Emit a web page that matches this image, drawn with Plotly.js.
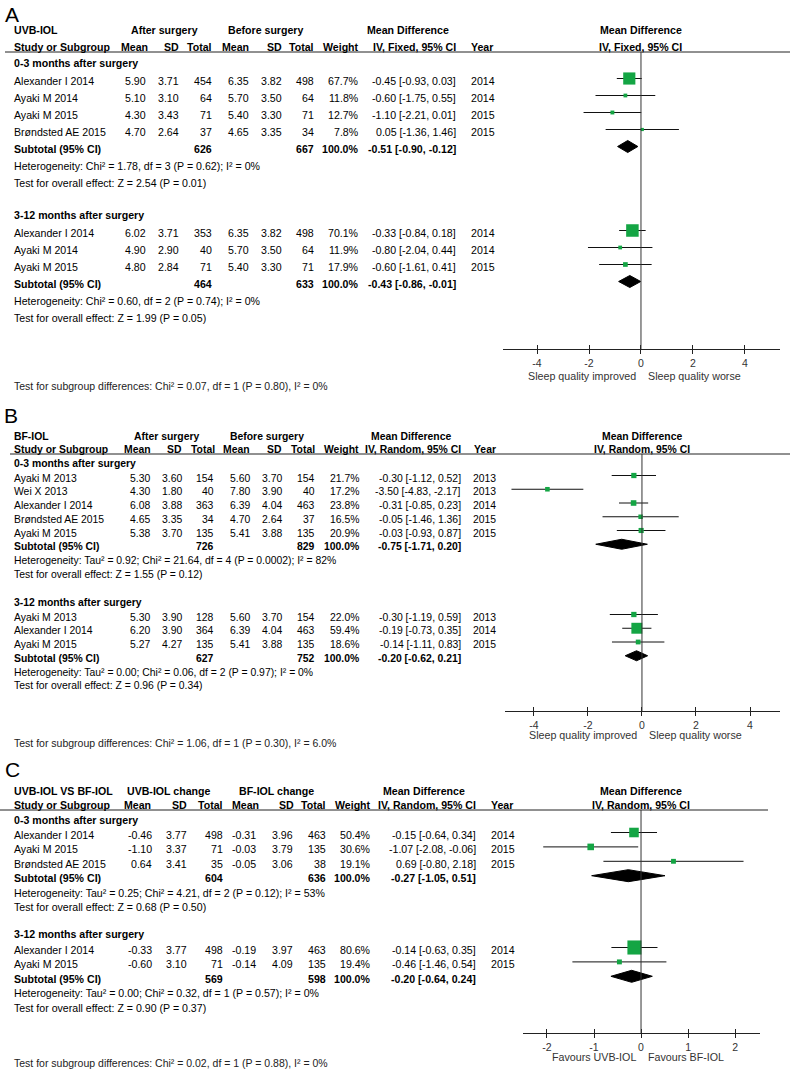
<!DOCTYPE html>
<html><head><meta charset="utf-8">
<script src="https://cdn.plot.ly/plotly-3.0.1.min.js"></script>
<style>html,body{margin:0;padding:0;background:#fff}#chart{width:790px;height:1069px}</style>
</head><body><div id="chart"></div>
<script>
// ================= DATA =================
// Panel A: UVB-IOL, IV Fixed
const A_title = "UVB-IOL";
const A_group1 = "After surgery";
const A_group2 = "Before surgery";
const A_method = "IV, Fixed, 95% CI";
const A_dirLeft = "Sleep quality improved";
const A_dirRight = "Sleep quality worse";
const A_ticks = [-4, -2, 0, 2, 4];

const A1_name = "0-3 months after surgery";
const A1_study = ["Alexander I 2014", "Ayaki M 2014", "Ayaki M 2015", "Brøndsted AE 2015"];
const A1_m1 = [5.90, 5.10, 4.30, 4.70];
const A1_s1 = [3.71, 3.10, 3.43, 2.64];
const A1_n1 = [454, 64, 71, 37];
const A1_m2 = [6.35, 5.70, 5.40, 4.65];
const A1_s2 = [3.82, 3.50, 3.30, 3.35];
const A1_n2 = [498, 64, 71, 34];
const A1_weight = [67.7, 11.8, 12.7, 7.8];
const A1_md = [-0.45, -0.60, -1.10, 0.05];
const A1_lo = [-0.93, -1.75, -2.21, -1.36];
const A1_hi = [0.03, 0.55, 0.01, 1.46];
const A1_year = [2014, 2014, 2015, 2015];
const A1_total = [626, 667];
const A1_pooled = [-0.51, -0.90, -0.12];
const A1_het = "Heterogeneity: Chi² = 1.78, df = 3 (P = 0.62); I² = 0%";
const A1_test = "Test for overall effect: Z = 2.54 (P = 0.01)";

const A2_name = "3-12 months after surgery";
const A2_study = ["Alexander I 2014", "Ayaki M 2014", "Ayaki M 2015"];
const A2_m1 = [6.02, 4.90, 4.80];
const A2_s1 = [3.71, 2.90, 2.84];
const A2_n1 = [353, 40, 71];
const A2_m2 = [6.35, 5.70, 5.40];
const A2_s2 = [3.82, 3.50, 3.30];
const A2_n2 = [498, 64, 71];
const A2_weight = [70.1, 11.9, 17.9];
const A2_md = [-0.33, -0.80, -0.60];
const A2_lo = [-0.84, -2.04, -1.61];
const A2_hi = [0.18, 0.44, 0.41];
const A2_year = [2014, 2014, 2015];
const A2_total = [464, 633];
const A2_pooled = [-0.43, -0.86, -0.01];
const A2_het = "Heterogeneity: Chi² = 0.60, df = 2 (P = 0.74); I² = 0%";
const A2_test = "Test for overall effect: Z = 1.99 (P = 0.05)";
const A_diff = "Test for subgroup differences: Chi² = 0.07, df = 1 (P = 0.80), I² = 0%";

// Panel B: BF-IOL, IV Random
const B_title = "BF-IOL";
const B_group1 = "After surgery";
const B_group2 = "Before surgery";
const B_method = "IV, Random, 95% CI";
const B_dirLeft = "Sleep quality improved";
const B_dirRight = "Sleep quality worse";
const B_ticks = [-4, -2, 0, 2, 4];

const B1_name = "0-3 months after surgery";
const B1_study = ["Ayaki M 2013", "Wei X 2013", "Alexander I 2014", "Brøndsted AE 2015", "Ayaki M 2015"];
const B1_m1 = [5.30, 4.30, 6.08, 4.65, 5.38];
const B1_s1 = [3.60, 1.80, 3.88, 3.35, 3.70];
const B1_n1 = [154, 40, 363, 34, 135];
const B1_m2 = [5.60, 7.80, 6.39, 4.70, 5.41];
const B1_s2 = [3.70, 3.90, 4.04, 2.64, 3.88];
const B1_n2 = [154, 40, 463, 37, 135];
const B1_weight = [21.7, 17.2, 23.8, 16.5, 20.9];
const B1_md = [-0.30, -3.50, -0.31, -0.05, -0.03];
const B1_lo = [-1.12, -4.83, -0.85, -1.46, -0.93];
const B1_hi = [0.52, -2.17, 0.23, 1.36, 0.87];
const B1_year = [2013, 2013, 2014, 2015, 2015];
const B1_total = [726, 829];
const B1_pooled = [-0.75, -1.71, 0.20];
const B1_het = "Heterogeneity: Tau² = 0.92; Chi² = 21.64, df = 4 (P = 0.0002); I² = 82%";
const B1_test = "Test for overall effect: Z = 1.55 (P = 0.12)";

const B2_name = "3-12 months after surgery";
const B2_study = ["Ayaki M 2013", "Alexander I 2014", "Ayaki M 2015"];
const B2_m1 = [5.30, 6.20, 5.27];
const B2_s1 = [3.90, 3.90, 4.27];
const B2_n1 = [128, 364, 135];
const B2_m2 = [5.60, 6.39, 5.41];
const B2_s2 = [3.70, 4.04, 3.88];
const B2_n2 = [154, 463, 135];
const B2_weight = [22.0, 59.4, 18.6];
const B2_md = [-0.30, -0.19, -0.14];
const B2_lo = [-1.19, -0.73, -1.11];
const B2_hi = [0.59, 0.35, 0.83];
const B2_year = [2013, 2014, 2015];
const B2_total = [627, 752];
const B2_pooled = [-0.20, -0.62, 0.21];
const B2_het = "Heterogeneity: Tau² = 0.00; Chi² = 0.06, df = 2 (P = 0.97); I² = 0%";
const B2_test = "Test for overall effect: Z = 0.96 (P = 0.34)";
const B_diff = "Test for subgroup differences: Chi² = 1.06, df = 1 (P = 0.30), I² = 6.0%";

// Panel C: UVB-IOL VS BF-IOL, IV Random
const C_title = "UVB-IOL VS BF-IOL";
const C_group1 = "UVB-IOL change";
const C_group2 = "BF-IOL change";
const C_method = "IV, Random, 95% CI";
const C_dirLeft = "Favours UVB-IOL";
const C_dirRight = "Favours BF-IOL";
const C_ticks = [-2, -1, 0, 1, 2];

const C1_name = "0-3 months after surgery";
const C1_study = ["Alexander I 2014", "Ayaki M 2015", "Brøndsted AE 2015"];
const C1_m1 = [-0.46, -1.10, 0.64];
const C1_s1 = [3.77, 3.37, 3.41];
const C1_n1 = [498, 71, 35];
const C1_m2 = [-0.31, -0.03, -0.05];
const C1_s2 = [3.96, 3.79, 3.06];
const C1_n2 = [463, 135, 38];
const C1_weight = [50.4, 30.6, 19.1];
const C1_md = [-0.15, -1.07, 0.69];
const C1_lo = [-0.64, -2.08, -0.80];
const C1_hi = [0.34, -0.06, 2.18];
const C1_year = [2014, 2015, 2015];
const C1_total = [604, 636];
const C1_pooled = [-0.27, -1.05, 0.51];
const C1_het = "Heterogeneity: Tau² = 0.25; Chi² = 4.21, df = 2 (P = 0.12); I² = 53%";
const C1_test = "Test for overall effect: Z = 0.68 (P = 0.50)";

const C2_name = "3-12 months after surgery";
const C2_study = ["Alexander I 2014", "Ayaki M 2015"];
const C2_m1 = [-0.33, -0.60];
const C2_s1 = [3.77, 3.10];
const C2_n1 = [498, 71];
const C2_m2 = [-0.19, -0.14];
const C2_s2 = [3.97, 4.09];
const C2_n2 = [463, 135];
const C2_weight = [80.6, 19.4];
const C2_md = [-0.14, -0.46];
const C2_lo = [-0.63, -1.46];
const C2_hi = [0.35, 0.54];
const C2_year = [2014, 2015];
const C2_total = [569, 598];
const C2_pooled = [-0.20, -0.64, 0.24];
const C2_het = "Heterogeneity: Tau² = 0.00; Chi² = 0.32, df = 1 (P = 0.57); I² = 0%";
const C2_test = "Test for overall effect: Z = 0.90 (P = 0.37)";
const C_diff = "Test for subgroup differences: Chi² = 0.02, df = 1 (P = 0.88), I² = 0%";

// ================= BUILD =================
const W = 790, H = 1069;
const GREEN = '#14a544';
const FN = '"Liberation Sans",Arial,sans-serif';
const annotations = [], shapes = [], traces = [];
const layoutAxes = {};
const pxX = x => x / W;
const pxY = y => 1 - y / H;

function T(x, y, text, o) {
  o = o || {};
  annotations.push({
    xref: o.xref || 'paper', yref: 'paper',
    x: o.xref ? x : pxX(x), y: pxY(y), text: String(text), showarrow: false,
    xanchor: o.a || 'left', yanchor: 'middle', xshift: o.xs || 0,
    borderpad: 0, font: { family: FN, size: o.s || 10.5, color: o.c || '#000' }
  });
}
const f2 = v => v.toFixed(2);
const ci = (m, l, h) => f2(m) + ' [' + f2(l) + ', ' + f2(h) + ']';

function mkSub(name, study, m1, s1, n1, m2, s2, n2, weight, md, lo, hi, year, total, pooled, het, test) {
  return { name, study, m1, s1, n1, m2, s2, n2, weight, md, lo, hi, year, total, pooled, het, test };
}

const PANELS = [
  { data: { label: 'A', title: A_title, g1: A_group1, g2: A_group2, method: A_method, dirL: A_dirLeft, dirR: A_dirRight, ticks: A_ticks, diff: A_diff,
      subs: [mkSub(A1_name, A1_study, A1_m1, A1_s1, A1_n1, A1_m2, A1_s2, A1_n2, A1_weight, A1_md, A1_lo, A1_hi, A1_year, A1_total, A1_pooled, A1_het, A1_test),
             mkSub(A2_name, A2_study, A2_m1, A2_s1, A2_n1, A2_m2, A2_s2, A2_n2, A2_weight, A2_md, A2_lo, A2_hi, A2_year, A2_total, A2_pooled, A2_het, A2_test)] },
    L: { fs: 10.6, labelX: 4, labelY: 15, h1: 30, h2: 47, line: 52, lineX0: 5, lineX1: 790,
      g1c: 164, g2c: 265, mdHc: 408,
      hcol: { m1: 149, s1: 180, n1: 213, m2: 250, s2: 283, n2: 315, w: 360, md: 457, yr: 470 },
      col: { m1: 147, s1: 180, n1: 213, m2: 250, s2: 283, n2: 315, w: 360, md: 457, yr: 470 },
      subs: [{ title: 63, start: 81 }, { title: 215, start: 233 }], step: 17, mOff: -2.5,
      ax0: 503, ax1: 780, range: [-5.31, 5.35], axisY: 349, dirY: 376, diffY: 386, dia: 6 } },
  { data: { label: 'B', title: B_title, g1: B_group1, g2: B_group2, method: B_method, dirL: B_dirLeft, dirR: B_dirRight, ticks: B_ticks, diff: B_diff,
      subs: [mkSub(B1_name, B1_study, B1_m1, B1_s1, B1_n1, B1_m2, B1_s2, B1_n2, B1_weight, B1_md, B1_lo, B1_hi, B1_year, B1_total, B1_pooled, B1_het, B1_test),
             mkSub(B2_name, B2_study, B2_m1, B2_s1, B2_n1, B2_m2, B2_s2, B2_n2, B2_weight, B2_md, B2_lo, B2_hi, B2_year, B2_total, B2_pooled, B2_het, B2_test)] },
    L: { fs: 10.4, labelX: 3, labelY: 415, h1: 436, h2: 449, line: 454, lineX0: 10, lineX1: 790,
      g1c: 166, g2c: 267, mdHc: 411,
      hcol: { m1: 152, s1: 183, n1: 216, m2: 251, s2: 283, n2: 316, w: 360, md: 462, yr: 473 },
      col: { m1: 151, s1: 183, n1: 215, m2: 251, s2: 283, n2: 316, w: 360, md: 462, yr: 472 },
      subs: [{ title: 463, start: 478 }, { title: 602, start: 617 }], step: 13.75, mOff: -2.5,
      ax0: 505, ax1: 780, range: [-5.07, 5.11], axisY: 711, dirY: 735, diffY: 743, dia: 5 } },
  { data: { label: 'C', title: C_title, g1: C_group1, g2: C_group2, method: C_method, dirL: C_dirLeft, dirR: C_dirRight, ticks: C_ticks, diff: C_diff,
      subs: [mkSub(C1_name, C1_study, C1_m1, C1_s1, C1_n1, C1_m2, C1_s2, C1_n2, C1_weight, C1_md, C1_lo, C1_hi, C1_year, C1_total, C1_pooled, C1_het, C1_test),
             mkSub(C2_name, C2_study, C2_m1, C2_s1, C2_n1, C2_m2, C2_s2, C2_n2, C2_weight, C2_md, C2_lo, C2_hi, C2_year, C2_total, C2_pooled, C2_het, C2_test)] },
    L: { fs: 10.6, labelX: 4, labelY: 769, h1: 791, h2: 805, line: 810, lineX0: 0, lineX1: 768,
      g1c: 168, g2c: 276, mdHc: 424,
      hcol: { m1: 152, s1: 188, n1: 224, m2: 260, s2: 295, n2: 327, w: 372, md: 477, yr: 490 },
      col: { m1: 153, s1: 188, n1: 224, m2: 257, s2: 294, n2: 327, w: 372, md: 477, yr: 490 },
      subs: [{ title: 820, start: 835 }, { title: 934, start: 950 }], step: 14.4, mOff: -2.5,
      ax0: 523, ax1: 760, range: [-2.51, 2.53], axisY: 1033, dirY: 1057, diffY: 1063, dia: 6 } }
];

PANELS.forEach((P, k) => {
  const D = P.data, L = P.L, n = k + 1;
  const xa = 'x' + (n === 1 ? '' : n), ya = 'y' + (n === 1 ? '' : n);
  const xname = 'xaxis' + (n === 1 ? '' : n), yname = 'yaxis' + (n === 1 ? '' : n);
  const fs = L.fs;
  const b = s => '<b>' + s + '</b>';

  // Panel letter
  T(L.labelX, L.labelY, D.label, { s: 21, c: '#000' });
  // Header row 1
  T(13, L.h1, b(D.title), { s: fs });
  T(L.g1c, L.h1, b(D.g1), { s: fs, a: 'center' });
  T(L.g2c, L.h1, b(D.g2), { s: fs, a: 'center' });
  T(L.mdHc, L.h1, b('Mean Difference'), { s: fs, a: 'center' });
  T(0, L.h1, b('Mean Difference'), { s: fs, a: 'center', xref: xa });
  // Header row 2
  T(13, L.h2, b('Study or Subgroup'), { s: fs });
  const hc = L.hcol;
  T(hc.m1, L.h2, b('Mean'), { s: fs, a: 'right' });
  T(hc.s1, L.h2, b('SD'), { s: fs, a: 'right' });
  T(hc.n1, L.h2, b('Total'), { s: fs, a: 'right' });
  T(hc.m2, L.h2, b('Mean'), { s: fs, a: 'right' });
  T(hc.s2, L.h2, b('SD'), { s: fs, a: 'right' });
  T(hc.n2, L.h2, b('Total'), { s: fs, a: 'right' });
  T(hc.w, L.h2, b('Weight'), { s: fs, a: 'right' });
  T(hc.md, L.h2, b(D.method), { s: fs, a: 'right' });
  T(hc.yr, L.h2, b('Year'), { s: fs });
  T(0, L.h2, b(D.method), { s: fs, a: 'center', xref: xa });
  shapes.push({ type: 'line', xref: 'paper', yref: 'paper', x0: pxX(L.lineX0), x1: pxX(L.lineX1),
    y0: pxY(L.line), y1: pxY(L.line), line: { color: '#222', width: 1 } });

  const c = L.col;
  D.subs.forEach((S, j) => {
    const G = L.subs[j];
    T(13, G.title, b(S.name), { s: fs });
    const rows = S.study.map((_, i) => G.start + i * L.step);
    S.study.forEach((name, i) => {
      const y = rows[i];
      T(13, y, name, { s: fs });
      T(c.m1, y, f2(S.m1[i]), { s: fs, a: 'right' });
      T(c.s1, y, f2(S.s1[i]), { s: fs, a: 'right' });
      T(c.n1, y, S.n1[i], { s: fs, a: 'right' });
      T(c.m2, y, f2(S.m2[i]), { s: fs, a: 'right' });
      T(c.s2, y, f2(S.s2[i]), { s: fs, a: 'right' });
      T(c.n2, y, S.n2[i], { s: fs, a: 'right' });
      T(c.w, y, S.weight[i].toFixed(1) + '%', { s: fs, a: 'right' });
      T(c.md, y, ci(S.md[i], S.lo[i], S.hi[i]), { s: fs, a: 'right' });
      T(c.yr, y, S.year[i], { s: fs });
    });
    const ys = G.start + S.study.length * L.step;
    T(13, ys, b('Subtotal (95% CI)'), { s: fs });
    T(c.n1, ys, b(S.total[0]), { s: fs, a: 'right' });
    T(c.n2, ys, b(S.total[1]), { s: fs, a: 'right' });
    T(c.w, ys, b('100.0%'), { s: fs, a: 'right' });
    T(c.md, ys, b(ci(S.pooled[0], S.pooled[1], S.pooled[2])), { s: fs, a: 'right' });
    T(13, ys + L.step, S.het, { s: fs });
    T(13, ys + 2 * L.step, S.test, { s: fs });

    // Study squares with CI whiskers
    traces.push({
      type: 'scatter', mode: 'markers', xaxis: xa, yaxis: ya, cliponaxis: false,
      x: S.md, y: rows.map(r => r + L.mOff),
      marker: { symbol: 'square', color: GREEN, opacity: 1, size: S.weight.map(w => 2 + 0.15 * w), line: { width: 0 } },
      error_x: { type: 'data', symmetric: false,
        array: S.hi.map((h, i) => h - S.md[i]), arrayminus: S.lo.map((l, i) => S.md[i] - l),
        color: '#111', thickness: 1, width: 0 },
      hoverinfo: 'skip'
    });
    // Pooled diamond
    const yd = ys + L.mOff, d = L.dia;
    traces.push({
      type: 'scatter', mode: 'lines', xaxis: xa, yaxis: ya, fill: 'toself',
      x: [S.pooled[1], S.pooled[0], S.pooled[2], S.pooled[0], S.pooled[1]],
      y: [yd, yd - d, yd, yd + d, yd],
      fillcolor: '#000', line: { color: '#000', width: 1 }, hoverinfo: 'skip'
    });
  });

  // zero line
  shapes.push({ type: 'line', xref: xa, yref: 'paper', x0: 0, x1: 0, y0: pxY(L.line), y1: pxY(L.axisY),
    line: { color: '#333', width: 1 } });
  // direction labels
  T(0, L.dirY, D.dirL, { xref: xa, a: 'right', xs: -4, s: 10.7, c: '#333' });
  T(0, L.dirY, D.dirR, { xref: xa, a: 'left', xs: 6, s: 10.7, c: '#333' });
  // subgroup differences
  T(13, L.diffY, D.diff, { s: 10.5, c: '#222' });

  layoutAxes[xname] = {
    domain: [pxX(L.ax0), pxX(L.ax1)], range: L.range, anchor: ya, showline: true, linecolor: '#222', linewidth: 1,
    showgrid: false, zeroline: false, tickmode: 'array', tickvals: D.ticks, ticktext: D.ticks.map(String),
    ticks: 'outside', ticklen: 4, tickcolor: '#222', tickfont: { family: FN, size: 10.5, color: '#333' }, fixedrange: true
  };
  layoutAxes[yname] = {
    domain: [pxY(L.axisY), pxY(L.line)], range: [L.axisY, L.line], visible: false, showgrid: false, zeroline: false, fixedrange: true
  };
  // overlay axis to make ticks cross the axis line
  const on = n + 3;
  layoutAxes['xaxis' + on] = {
    domain: [pxX(L.ax0), pxX(L.ax1)], range: L.range, anchor: ya, overlaying: xa, showline: false,
    showgrid: false, zeroline: false, tickmode: 'array', tickvals: D.ticks, showticklabels: false,
    ticks: 'inside', ticklen: 4, tickcolor: '#222', fixedrange: true
  };
  traces.push({ type: 'scatter', mode: 'markers', x: [], y: [], xaxis: 'x' + on, yaxis: ya, hoverinfo: 'skip' });
});

const layout = Object.assign({
  width: W, height: H, margin: { l: 0, r: 0, t: 0, b: 0 },
  paper_bgcolor: '#fff', plot_bgcolor: 'rgba(0,0,0,0)', showlegend: false,
  annotations, shapes, font: { family: FN }
}, layoutAxes);

Plotly.newPlot('chart', traces, layout, { displayModeBar: false, staticPlot: true });
</script></body></html>
